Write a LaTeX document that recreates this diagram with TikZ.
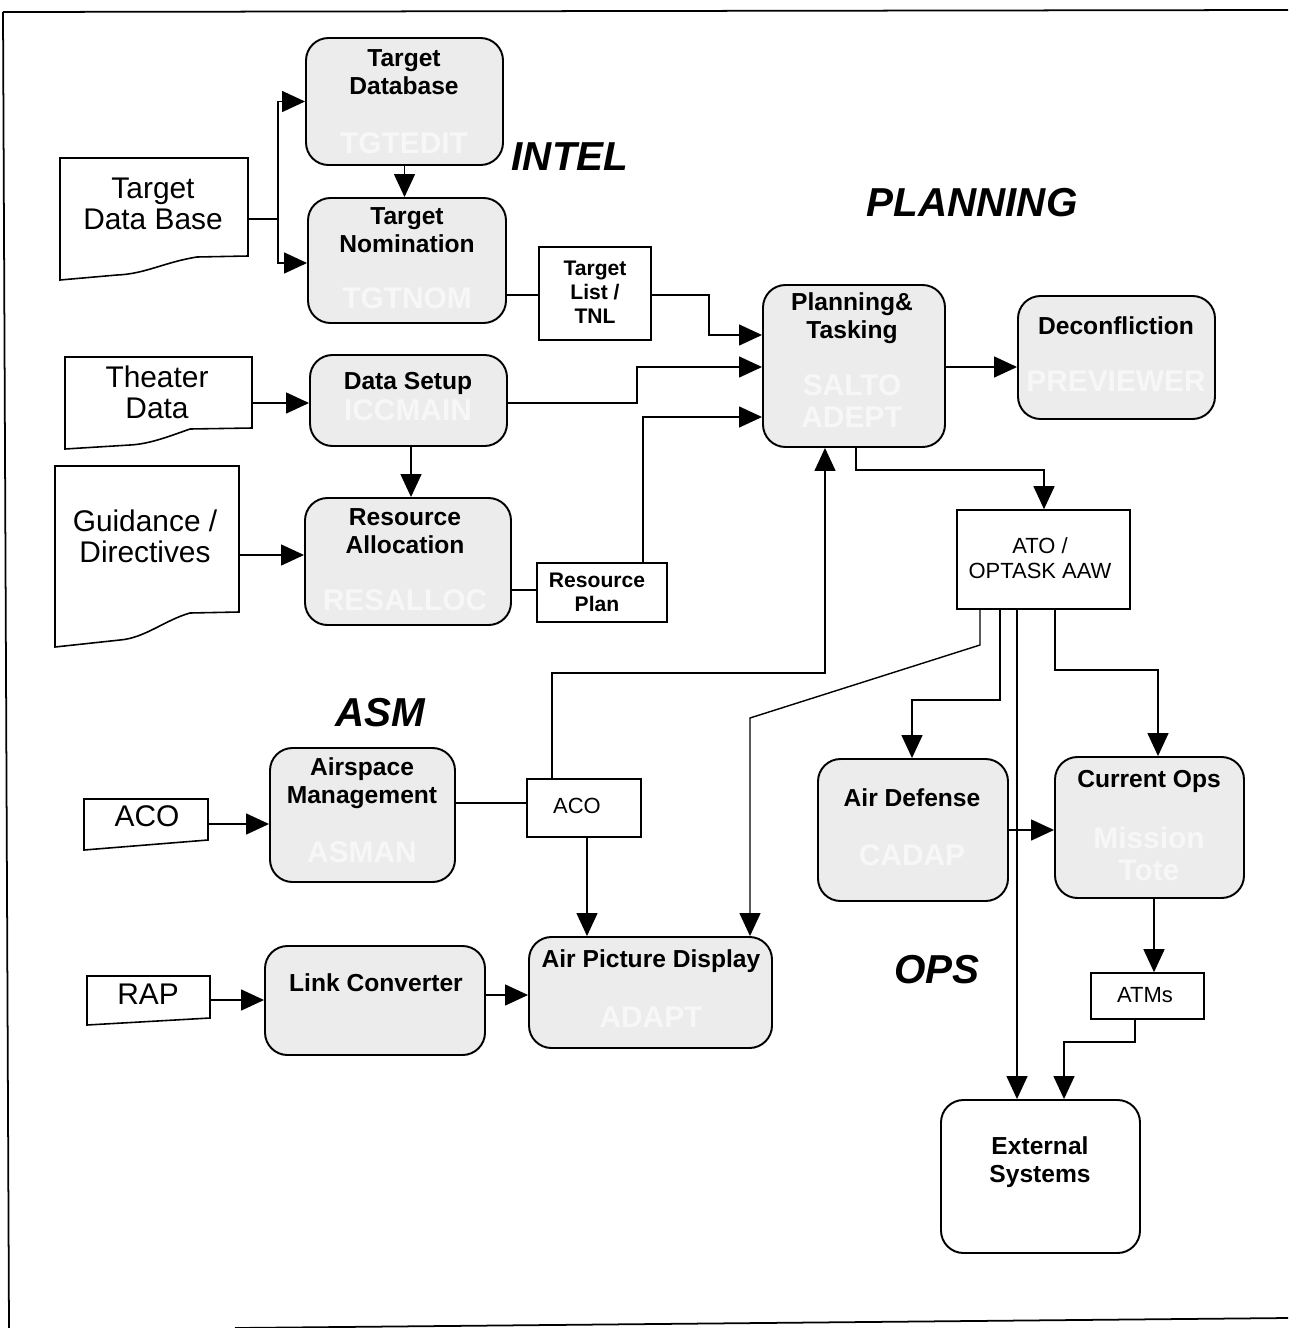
\documentclass[tikz,border=0pt]{standalone}
\usepackage{fontspec}
\setmainfont{Liberation Sans}
\usetikzlibrary{arrows.meta,fit,calc}
\definecolor{boxgray}{HTML}{ECECEC}
\definecolor{ghostwhite}{HTML}{F7F7F7}
\begin{document}
\begin{tikzpicture}[x=0.02cm,y=-0.02cm,
  gbox/.style={draw, line width=1.1pt, fill=boxgray, rounded corners=0.45cm, inner sep=0pt},
  pbox/.style={draw, line width=0.9pt, fill=white, inner sep=0pt},
  frame/.style={inner sep=0pt},
  docline/.style={line width=0.9pt},
  title/.style={font=\bfseries\fontsize{14}{16}\selectfont, align=center},
  ghost/.style={text=ghostwhite, font=\bfseries\fontsize{17}{18.5}\selectfont, align=center},
  doctext/.style={font=\fontsize{17}{17.6}\selectfont, align=center},
  small/.style={font=\bfseries\fontsize{12}{13.6}\selectfont, align=center},
  plain/.style={font=\fontsize{12.5}{14}\selectfont, align=center},
  area/.style={font=\bfseries\itshape\fontsize{23}{26}\selectfont},
  link/.style={line width=0.8pt},
  arr/.style={link, -{Triangle[length=0.46cm,width=0.42cm]}}]

\path[use as bounding box] (0,0) rectangle (1288,1328);

% page frame
\draw[line width=1pt] (3,12) -- (1288,10);
\draw[line width=1pt] (3,12) -- (9,1328);
\draw[line width=1pt] (235,1328) -- (1288,1318);

% ---------- source documents ----------
\node[frame, fit={(60,158) (248,280)}] (tdbdoc) {};
\draw[docline] (60,158) -- (248,158) -- (248,256) -- (197,257)
  .. controls (165,262) and (145,274) .. (117,275) -- (60,280) -- cycle;
\node[doctext] (tdbtxt) at (153,204) {Target\\Data Base};

\node[frame, fit={(65,357) (252,449)}] (thdoc) {};
\draw[docline] (65,357) -- (252,357) -- (252,428) -- (190,429)
  .. controls (170,436) and (150,444) .. (130,445) -- (65,449) -- cycle;
\node[doctext] (thtxt) at (157,392) {Theater\\Data};

\node[frame, fit={(55,466) (239,646)}] (gddoc) {};
\draw[docline] (55,466) -- (239,466) -- (239,612) -- (190,613)
  .. controls (165,620) and (145,638) .. (120,640) -- (55,647) -- cycle;
\node[doctext] (gdtxt) at (145,536) {Guidance /\\Directives};

\node[frame, fit={(84,799) (208,850)}] (acodoc) {};
\draw[docline] (84,799) -- (208,799) -- (208,840) -- (84,850) -- cycle;
\node[doctext] (acodoctxt) at (147,816) {ACO};

\node[frame, fit={(87,976) (210,1025)}] (rapdoc) {};
\draw[docline] (87,976) -- (210,976) -- (210,1018) -- (87,1025) -- cycle;
\node[doctext] (raptxt) at (148,994) {RAP};

% ---------- process boxes ----------
\node[gbox, fit={(306,38) (503,165)}] (tgtdb) {};
\node[title] (tgtdbt) at (404,72) {Target\\Database};
\node[ghost] (tgtdbg) at (404,143) {TGTEDIT};

\node[gbox, fit={(308,198) (506,323)}] (tgtnom) {};
\node[title] (tgtnomt) at (407,230) {Target\\Nomination};
\node[ghost] (tgtnomg) at (407,298) {TGTNOM};

\node[gbox, fit={(310,355) (507,446)}] (setup) {};
\node[title] (setupt) at (408,383) {Data Setup};
\node[ghost] (setupg) at (408,410) {ICCMAIN};

\node[gbox, fit={(305,498) (511,625)}] (resalloc) {};
\node[title] (resalloct) at (405,531) {Resource\\Allocation};
\node[ghost] (resallocg) at (405,600) {RESALLOC};

\node[gbox, fit={(763,285) (945,447)}] (plan) {};
\node[title] (plant) at (852,318) {Planning\&\\Tasking};
\node[ghost] (plang) at (852,401) {SALTO\\ADEPT};

\node[gbox, fit={(1018,296) (1215,419)}] (decon) {};
\node[title] (decont) at (1116,326) {Deconfliction};
\node[ghost] (decong) at (1116,381) {PREVIEWER};

\node[gbox, fit={(270,748) (455,882)}] (asm) {};
\node[title] (asmt) at (362,783) {Airspace\\Management};
\node[ghost] (asmg) at (362,852) {ASMAN};

\node[gbox, fit={(265,946) (485,1055)}] (linkc) {};
\node[title] (linkct) at (376,983) {Link Converter};

\node[gbox, fit={(529,937) (772,1048)}] (apd) {};
\node[title] (apdt) at (651,961) {Air Picture Display};
\node[ghost] (apdg) at (651,1017) {ADAPT};

\node[gbox, fit={(818,759) (1008,901)}] (adef) {};
\node[title] (adeft) at (912,798) {Air Defense};
\node[ghost] (adefg) at (912,855) {CADAP};

\node[gbox, fit={(1055,757) (1244,898)}] (curops) {};
\node[title] (curopst) at (1149,781) {Current Ops};
\node[ghost] (curopsg) at (1149,854) {Mission\\Tote};

\node[gbox, fill=white, fit={(941,1100) (1140,1253)}] (ext) {};
\node[title] (extt) at (1040,1162) {External\\Systems};

% ---------- products ----------
\node[pbox, fit={(539,247) (651,340)}] (tlist) {};
\node[small] (tlistt) at (595,292) {Target\\List /\\TNL};

\node[pbox, fit={(537,563) (667,622)}] (rplan) {};
\node[small] (rplant) at (597,592) {Resource\\Plan};

\node[pbox, fit={(957,510) (1130,609)}] (ato) {};
\node[plain] (atot) at (1040,558) {ATO /\\OPTASK AAW};

\node[pbox, fit={(527,779) (641,837)}] (aco) {};
\node[plain] (acot) at (577,806) {ACO};

\node[pbox, fit={(1091,973) (1204,1019)}] (atms) {};
\node[plain] (atmst) at (1145,995) {ATMs};

% ---------- area labels ----------
\node[area] (intel) at (570,157) {INTEL};
\node[area] (planning) at (972,203) {PLANNING};
\node[area] (asmlab) at (380,713) {ASM};
\node[area] (ops) at (937,970) {OPS};

% ---------- connectors ----------
\draw[link] (tdbdoc.east) -- (278,219) coordinate (split);
\draw[arr] (split) |- (tgtdb.west);
\draw[arr] (split) |- (tgtnom.west |- 0,263);
\draw[arr] (tgtdb.south) -- (tgtdb.south |- tgtnom.north);
\draw[link] (tgtnom.east |- 0,295) -- (tlist.west |- 0,295);
\draw[arr] (tlist.east |- 0,295) -- (709,295) |- (plan.west |- 0,335);
\draw[arr] (thdoc.east |- 0,403) -- (setup.west |- 0,403);
\draw[arr] (setup.east |- 0,403) -- (637,403) |- (plan.west |- 0,367);
\draw[arr] (setup.south -| 411,0) -- (resalloc.north -| 411,0);
\draw[arr] (gddoc.east |- 0,555) -- (resalloc.west |- 0,555);
\draw[link] (resalloc.east |- 0,590) -- (rplan.west |- 0,590);
\draw[arr] (rplan.north -| 643,0) |- (plan.west |- 0,417);
\draw[arr] (plan.east |- 0,367) -- (decon.west |- 0,367);
\draw[arr] (plan.south -| 856,0) -- (856,470) -| (ato.north -| 1044,0);
\draw[arr] (aco.north -| 552,0) |- (825,673) -- (plan.south -| 825,0);
\draw[arr] (aco.south -| 587,0) -- (apd.north -| 587,0);
\draw[link] (asm.east |- 0,803) -- (aco.west |- 0,803);
\draw[arr] (ato.south -| 980,0) -- (980,645) -- (750,718) -- (apd.north -| 750,0);
\draw[arr] (ato.south -| 1000,0) |- (912,700) -- (adef.north -| 912,0);
\draw[arr] (ato.south -| 1017,0) -- (ext.north -| 1017,0);
\draw[arr] (ato.south -| 1055,0) |- (1158,670) -- (curops.north -| 1158,0);
\draw[arr] (adef.east |- 0,830) -- (curops.west |- 0,830);
\draw[arr] (curops.south -| 1154,0) -- (atms.north -| 1154,0);
\draw[arr] (atms.south -| 1135,0) |- (1064,1042) -- (ext.north -| 1064,0);
\draw[arr] (acodoc.east |- 0,824) -- (asm.west |- 0,824);
\draw[arr] (rapdoc.east |- 0,1000) -- (linkc.west |- 0,1000);
\draw[arr] (linkc.east |- 0,995) -- (apd.west |- 0,995);
\end{tikzpicture}
\end{document}
